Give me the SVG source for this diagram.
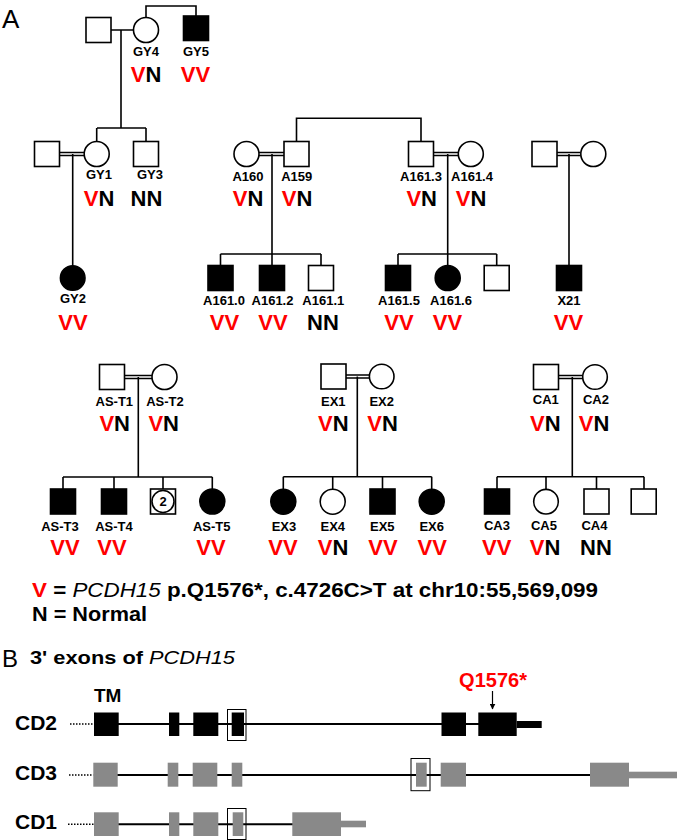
<svg xmlns="http://www.w3.org/2000/svg" width="677" height="840" viewBox="0 0 677 840">
<defs>
<style>
.n{fill:#fff;stroke:#000;stroke-width:1.6}
.a{fill:#000;stroke:#000;stroke-width:1.6}
.c{stroke:#000;stroke-width:1.6;fill:none}
.id{font-family:"Liberation Sans",Arial,sans-serif;font-weight:bold;font-size:13px;text-anchor:middle;fill:#000}
.g{font-family:"Liberation Sans",Arial,sans-serif;font-weight:bold;font-size:22px;text-anchor:middle;fill:#000}
.t{font-family:"Liberation Sans",Arial,sans-serif;font-weight:bold;fill:#000}
.r{fill:#ff0000}
.ex{fill:#000}
.gx{fill:#898989}
.box{fill:none;stroke:#000;stroke-width:1}
.dot{stroke:#000;stroke-width:1.5;stroke-dasharray:1.5 1.5}
</style>
<marker id="ah" viewBox="0 0 10 10" refX="9" refY="5" markerWidth="6" markerHeight="6" orient="auto" markerUnits="userSpaceOnUse">
<path d="M0,0 L10,5 L0,10 z" fill="#000"/>
</marker>
</defs>
<rect width="677" height="840" fill="#fff"/>
<text x="2" y="28" font-family="Liberation Sans, Arial, sans-serif" font-size="26">A</text>

<g id="connectors">
<path class="c" d="M111 30H133.5M121 30V128M146 17.5V6H196V16M97 128H146M96.7 128V141.7M146 128V141.5"/>
<path class="c" d="M59.5 152.5H84.2M59.5 155.5H84.2M72.7 154V265.7"/>
<path class="c" d="M259 152.5H284M259 155.5H284M272 154V265.5M296.5 141.5V118.3H421V141.5"/>
<path class="c" d="M433.5 152.5H458.3M433.5 155.5H458.3M447.7 154V265.5"/>
<path class="c" d="M220.5 254H321M220.5 254V265.5M321 254V265.5M398 254H496.7M398 254V265.5M496.7 254V265.5"/>
<path class="c" d="M557 152.5H580.8M557 155.5H580.8M569 154V265.5"/>
<path class="c" d="M124.5 375.5H152M124.5 378.5H152M138.3 377V477M63 477H212.3M63 477V489M114 477V489M163 477V489M212.3 477V489"/>
<path class="c" d="M346 375H369.4M346 378H369.4M357.3 376.5V476.7M283.3 476.7H431.7M283.3 476.7V489.2M332.7 476.7V489.2M382.5 476.7V489M431.7 476.7V489.2"/>
<path class="c" d="M558.5 375.5H582.7M558.5 378.5H582.7M572.3 377V476.7M497 476.7H644M497 476.7V489M546 476.7V489.4M596.5 476.7V489M644 476.7V489"/>
</g>

<g id="GY4-husband"><rect class="n" x="86" y="17.5" width="25" height="25"/></g>
<g id="GY4"><circle class="n" cx="146" cy="30" r="12.5"/><text class="id" x="146" y="56">GY4</text><text class="g" x="146" y="82"><tspan class="r">V</tspan>N</text></g>
<g id="GY5"><rect class="a" x="183.5" y="16" width="25" height="24.5"/><text class="id" x="196" y="56">GY5</text><text class="g" x="195.5" y="82"><tspan class="r">VV</tspan></text></g>
<g id="GY1-husband"><rect class="n" x="34.5" y="141.5" width="25" height="25"/></g>
<g id="GY1"><circle class="n" cx="96.7" cy="154" r="12.5"/><text class="id" x="99" y="179">GY1</text><text class="g" x="99" y="206"><tspan class="r">V</tspan>N</text></g>
<g id="GY3"><rect class="n" x="133.5" y="141.5" width="25" height="25"/><text class="id" x="150" y="179">GY3</text><text class="g" x="146.5" y="206">NN</text></g>
<g id="GY2"><circle class="a" cx="72.7" cy="278" r="12.3"/><text class="id" x="73" y="303">GY2</text><text class="g" x="73" y="330"><tspan class="r">VV</tspan></text></g>

<g id="A160"><circle class="n" cx="246.5" cy="154" r="12.5"/><text class="id" x="248" y="181">A160</text><text class="g" x="248" y="206"><tspan class="r">V</tspan>N</text></g>
<g id="A159"><rect class="n" x="284" y="141.5" width="25" height="25"/><text class="id" x="296.7" y="181">A159</text><text class="g" x="297" y="206"><tspan class="r">V</tspan>N</text></g>
<g id="A161.3"><rect class="n" x="408.5" y="141.5" width="25" height="25"/><text class="id" x="421" y="181">A161.3</text><text class="g" x="421.7" y="206"><tspan class="r">V</tspan>N</text></g>
<g id="A161.4"><circle class="n" cx="470.8" cy="154" r="12.5"/><text class="id" x="472" y="181">A161.4</text><text class="g" x="471" y="206"><tspan class="r">V</tspan>N</text></g>
<g id="A161.0"><rect class="a" x="208" y="265.5" width="25" height="25"/><text class="id" x="224" y="305">A161.0</text><text class="g" x="224.5" y="330"><tspan class="r">VV</tspan></text></g>
<g id="A161.2"><rect class="a" x="259.5" y="265.5" width="25" height="25"/><text class="id" x="272.5" y="305">A161.2</text><text class="g" x="273" y="330"><tspan class="r">VV</tspan></text></g>
<g id="A161.1"><rect class="n" x="308.5" y="265.5" width="25" height="25"/><text class="id" x="323.3" y="305">A161.1</text><text class="g" x="323" y="330">NN</text></g>
<g id="A161.5"><rect class="a" x="385.5" y="265.5" width="25" height="25"/><text class="id" x="399" y="305">A161.5</text><text class="g" x="399" y="330"><tspan class="r">VV</tspan></text></g>
<g id="A161.6"><circle class="a" cx="447.7" cy="278" r="12.5"/><text class="id" x="451" y="305">A161.6</text><text class="g" x="447.5" y="330"><tspan class="r">VV</tspan></text></g>
<g id="A-sib3"><rect class="n" x="484.2" y="265.5" width="25" height="25"/></g>

<g id="X21-father"><rect class="n" x="532" y="141.5" width="25" height="25"/></g>
<g id="X21-mother"><circle class="n" cx="593.3" cy="154" r="12.5"/></g>
<g id="X21"><rect class="a" x="556.5" y="265.5" width="25" height="25"/><text class="id" x="569" y="305">X21</text><text class="g" x="568.5" y="330"><tspan class="r">VV</tspan></text></g>

<g id="AS-T1"><rect class="n" x="99.5" y="364.5" width="25" height="25"/><text class="id" x="114.3" y="406">AS-T1</text><text class="g" x="114.7" y="431"><tspan class="r">V</tspan>N</text></g>
<g id="AS-T2"><circle class="n" cx="164.5" cy="377" r="12.5"/><text class="id" x="165" y="406">AS-T2</text><text class="g" x="163.7" y="431"><tspan class="r">V</tspan>N</text></g>
<g id="AS-T3"><rect class="a" x="50.5" y="489" width="25" height="25"/><text class="id" x="60" y="531">AS-T3</text><text class="g" x="65" y="555"><tspan class="r">VV</tspan></text></g>
<g id="AS-T4"><rect class="a" x="101.5" y="489" width="25" height="25"/><text class="id" x="114" y="531">AS-T4</text><text class="g" x="112" y="555"><tspan class="r">VV</tspan></text></g>
<g id="AS-sibs2"><rect class="n" x="150.5" y="489" width="25" height="25"/><circle fill="none" stroke="#000" stroke-width="1.6" cx="163" cy="501.5" r="11"/><text class="id" x="163" y="506">2</text></g>
<g id="AS-T5"><circle class="a" cx="212.3" cy="501.5" r="12.5"/><text class="id" x="211.7" y="531">AS-T5</text><text class="g" x="211" y="555"><tspan class="r">VV</tspan></text></g>

<g id="EX1"><rect class="n" x="321" y="364" width="25" height="25"/><text class="id" x="333.3" y="406">EX1</text><text class="g" x="333.3" y="431"><tspan class="r">V</tspan>N</text></g>
<g id="EX2"><circle class="n" cx="381.7" cy="376.5" r="12.3"/><text class="id" x="381.7" y="406">EX2</text><text class="g" x="382.5" y="431"><tspan class="r">V</tspan>N</text></g>
<g id="EX3"><circle class="a" cx="283.3" cy="501.7" r="12.5"/><text class="id" x="284" y="530.5">EX3</text><text class="g" x="283" y="555"><tspan class="r">VV</tspan></text></g>
<g id="EX4"><circle class="n" cx="332.7" cy="501.7" r="12.5"/><text class="id" x="332.8" y="530.5">EX4</text><text class="g" x="333" y="555"><tspan class="r">V</tspan>N</text></g>
<g id="EX5"><rect class="a" x="370" y="489" width="25" height="25"/><text class="id" x="382.3" y="530.5">EX5</text><text class="g" x="383" y="555"><tspan class="r">VV</tspan></text></g>
<g id="EX6"><circle class="a" cx="431.7" cy="501.7" r="12.5"/><text class="id" x="431.7" y="530.5">EX6</text><text class="g" x="432.3" y="555"><tspan class="r">VV</tspan></text></g>

<g id="CA1"><rect class="n" x="533.5" y="364.5" width="25" height="25"/><text class="id" x="545.8" y="404">CA1</text><text class="g" x="545.3" y="431"><tspan class="r">V</tspan>N</text></g>
<g id="CA2"><circle class="n" cx="595" cy="377" r="12.3"/><text class="id" x="596" y="404">CA2</text><text class="g" x="594" y="431"><tspan class="r">V</tspan>N</text></g>
<g id="CA3"><rect class="a" x="484.5" y="489" width="25" height="25"/><text class="id" x="497" y="530">CA3</text><text class="g" x="496.7" y="555"><tspan class="r">VV</tspan></text></g>
<g id="CA5"><circle class="n" cx="546" cy="501.7" r="12.3"/><text class="id" x="544" y="530">CA5</text><text class="g" x="545" y="555"><tspan class="r">V</tspan>N</text></g>
<g id="CA4"><rect class="n" x="584" y="489" width="25" height="25"/><text class="id" x="594.5" y="530">CA4</text><text class="g" x="596" y="555">NN</text></g>
<g id="CA-sib4"><rect class="n" x="631.2" y="489" width="25" height="25"/></g>

<g id="legend">
<text class="t" x="32" y="597" font-size="20" textLength="566" lengthAdjust="spacingAndGlyphs"><tspan class="r">V</tspan> = <tspan font-style="italic" font-weight="normal">PCDH15</tspan> p.Q1576*, c.4726C&gt;T at chr10:55,569,099</text>
<text class="t" x="32" y="621" font-size="20" textLength="115" lengthAdjust="spacingAndGlyphs">N = Normal</text>
</g>

<text x="2" y="667" font-family="Liberation Sans, Arial, sans-serif" font-size="24">B</text>
<text class="t" x="30" y="664" font-size="19" textLength="205" lengthAdjust="spacingAndGlyphs">3' exons of <tspan font-style="italic" font-weight="normal">PCDH15</tspan></text>
<text x="493" y="687" font-family="Liberation Sans, Arial, sans-serif" font-weight="bold" font-size="20" text-anchor="middle" fill="#ff0000">Q1576*</text>
<line x1="492.5" y1="691" x2="492.5" y2="709" stroke="#000" stroke-width="1.2" marker-end="url(#ah)"/>
<text class="t" x="94" y="702" font-size="19">TM</text>

<g id="CD2">
<text class="t" x="15" y="730" font-size="21">CD2</text>
<line class="dot" x1="70" y1="724" x2="94" y2="724"/>
<line x1="118" y1="724" x2="479" y2="724" stroke="#000" stroke-width="2"/>
<rect class="ex" x="94" y="712.5" width="24.7" height="23.5"/>
<rect class="ex" x="169" y="712.5" width="10.3" height="23.5"/>
<rect class="ex" x="193.3" y="712.5" width="25" height="23.5"/>
<rect class="ex" x="231.7" y="712.5" width="12.3" height="23.5"/>
<rect class="box" x="227.5" y="709.5" width="18.5" height="31"/>
<rect class="ex" x="441.5" y="712.5" width="24.5" height="23.5"/>
<rect class="ex" x="478.3" y="712.5" width="38.4" height="23.5"/>
<rect class="ex" x="516.7" y="721" width="25" height="7"/>
</g>

<g id="CD3">
<text class="t" x="15" y="780" font-size="21">CD3</text>
<line class="dot" x1="69" y1="775" x2="93.3" y2="775"/>
<line x1="117" y1="775" x2="591" y2="775" stroke="#000" stroke-width="2"/>
<rect class="gx" x="93.3" y="762.7" width="24.4" height="24"/>
<rect class="gx" x="167.7" y="762.7" width="10.6" height="24"/>
<rect class="gx" x="192.7" y="762.7" width="24.6" height="24"/>
<rect class="gx" x="231.7" y="762.7" width="10.6" height="24"/>
<rect class="gx" x="416" y="762.7" width="10.7" height="24"/>
<rect class="box" x="411" y="758.5" width="19" height="32.2"/>
<rect class="gx" x="440.7" y="762.7" width="25.3" height="24"/>
<rect class="gx" x="590" y="762.7" width="39" height="24"/>
<rect class="gx" x="629" y="771.7" width="48" height="6.6"/>
</g>

<g id="CD1">
<text class="t" x="15" y="829" font-size="21">CD1</text>
<line class="dot" x1="68" y1="824.3" x2="94" y2="824.3"/>
<line x1="118" y1="824.3" x2="293" y2="824.3" stroke="#000" stroke-width="2"/>
<rect class="gx" x="94" y="812.3" width="24.7" height="23.7"/>
<rect class="gx" x="169" y="812.3" width="10.3" height="23.7"/>
<rect class="gx" x="193.3" y="812.3" width="25" height="23.7"/>
<rect class="gx" x="232.7" y="812.3" width="10.6" height="23.7"/>
<rect class="box" x="227.5" y="808.5" width="18.5" height="31"/>
<rect class="gx" x="292.3" y="812.3" width="48.7" height="23.7"/>
<rect class="gx" x="341" y="820.7" width="25" height="6.6"/>
</g>
</svg>
